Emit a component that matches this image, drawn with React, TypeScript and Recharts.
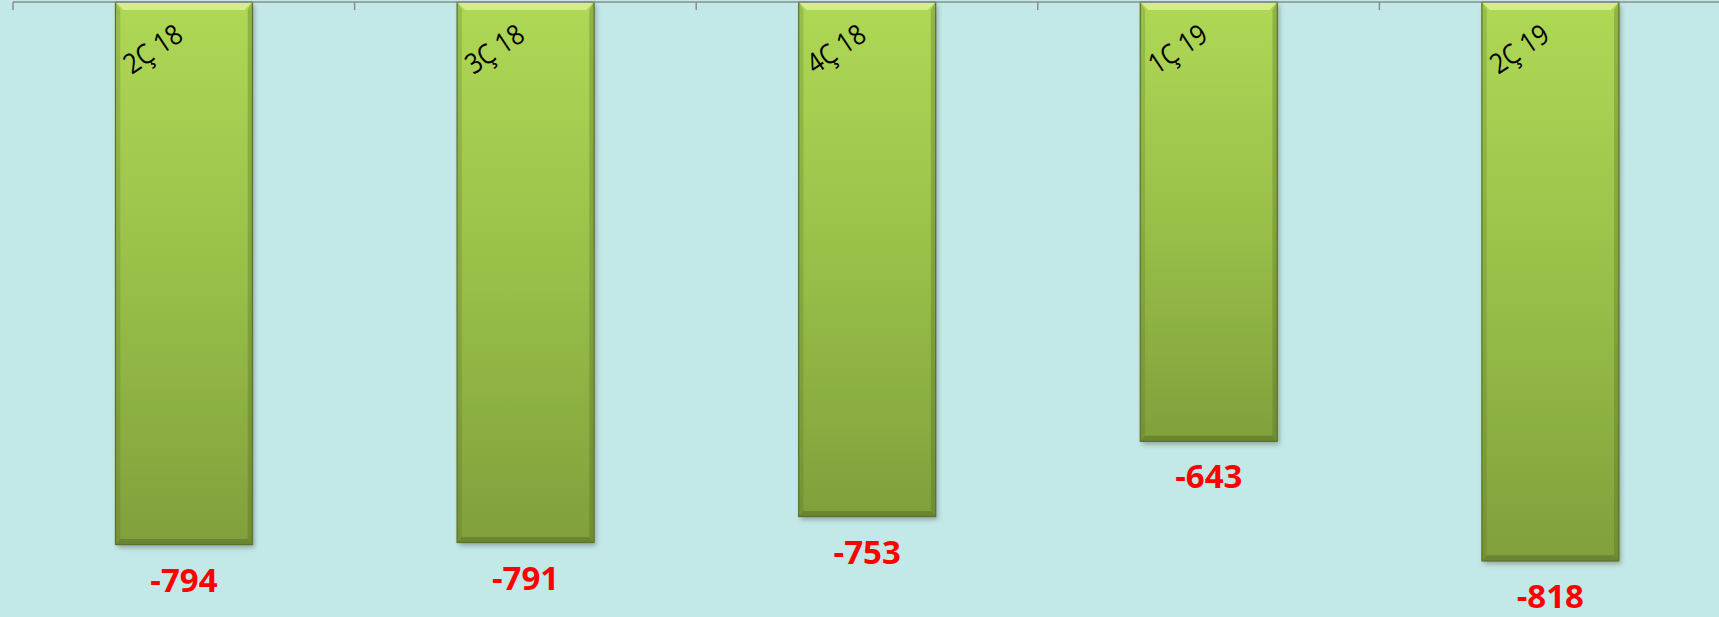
import { BarChart, Bar, XAxis, YAxis, LabelList } from "recharts";

const categories = ["2Ç 18", "3Ç 18", "4Ç 18", "1Ç 19", "2Ç 19"];
const values = [-794, -791, -753, -643, -818];

const data = categories.map((cat, i) => ({ cat, value: values[i] }));

const CHART_W = 1721;
const CHART_H = 617;
const LEFT = 13;
const AXIS_Y = 2;
const BAND = (CHART_W - LEFT) / categories.length;

function CategoryTick({ x, payload }: any) {
  const tx = x - 52;
  const ty = AXIS_Y + 73;
  return (
    <g>
      <line x1={x - BAND / 2} y1={AXIS_Y} x2={x - BAND / 2} y2={AXIS_Y + 8} stroke="#8c8c8c" strokeWidth={1.5} />
      <g transform={`translate(${tx}, ${ty}) rotate(-34) scale(0.88, 1)`}>
        <text
          x={0}
          y={0}
          textAnchor="start"
          fill="#000"
          style={{ fontFamily: "'Open Sans', sans-serif", fontSize: 28 }}
        >
          {payload.value}
        </text>
      </g>
    </g>
  );
}

function BevelBar({ x, y, width, height }: any) {
  const top = Math.min(y, y + height);
  const h = Math.abs(height);
  const b = 8;
  const r = x + width;
  const btm = top + h;
  return (
    <g>
      <rect x={x} y={top} width={width} height={h} fill="#6b6b6b" opacity={0.55} filter="url(#barShadow)" />
      <rect x={x} y={top} width={width} height={h} fill="url(#barGrad)" />
      <polygon points={`${x},${top} ${r},${top} ${r - b},${top + b} ${x + b},${top + b}`} fill="#e6f89c" opacity={0.7} />
      <polygon points={`${x},${top} ${x + b * 0.6},${top + b} ${x + b * 0.6},${btm - b * 0.7} ${x},${btm}`} fill="#4d6420" opacity={0.22} />
      <polygon points={`${r},${top} ${r - b * 0.6},${top + b} ${r - b * 0.6},${btm - b * 0.7} ${r},${btm}`} fill="#4d6420" opacity={0.3} />
      <polygon points={`${x},${btm} ${r},${btm} ${r - b * 0.6},${btm - b * 0.7} ${x + b * 0.6},${btm - b * 0.7}`} fill="#3f541a" opacity={0.35} />
      <rect x={x} y={top} width={width} height={h} fill="none" stroke="#5a7228" strokeWidth={1.2} />
    </g>
  );
}

function ValueLabel({ x, y, width, height, value }: any) {
  const bottom = Math.max(y, y + height);
  return (
    <text
      x={x + width / 2}
      y={bottom + 47}
      textAnchor="middle"
      fill="#ff0000"
      style={{ fontFamily: "'Open Sans', sans-serif", fontSize: 33, fontWeight: 700 }}
    >
      {value}
    </text>
  );
}

export default function App() {
  return (
    <div style={{ width: 1719, height: 617, overflow: "hidden", background: "#c2e9e7" }}>
      <style>{"body{margin:0;overflow:hidden}"}</style>
      <BarChart
        width={CHART_W}
        height={CHART_H}
        data={data}
        margin={{ top: 0, right: 0, left: LEFT, bottom: 0 }}
        barCategoryGap="30%"
      >
        <defs>
          <linearGradient id="barGrad" x1="0" y1="0" x2="0" y2="1">
            <stop offset="0%" stopColor="#afd856" />
            <stop offset="50%" stopColor="#9abf49" />
            <stop offset="100%" stopColor="#80a03b" />
          </linearGradient>
          <filter id="barShadow" x="-10%" y="-10%" width="130%" height="130%">
            <feOffset dx="2" dy="3" />
            <feGaussianBlur stdDeviation="2.5" />
          </filter>
        </defs>
        <YAxis hide domain={[-900, 0]} />
        <Bar dataKey="value" shape={<BevelBar />} isAnimationActive={false}>
          <LabelList dataKey="value" content={<ValueLabel />} />
        </Bar>
        <XAxis
          dataKey="cat"
          orientation="top"
          height={AXIS_Y}
          tickLine={false}
          axisLine={{ stroke: "#8c8c8c", strokeWidth: 1.5 }}
          tick={<CategoryTick />}
          interval={0}
        />
      </BarChart>
    </div>
  );
}
